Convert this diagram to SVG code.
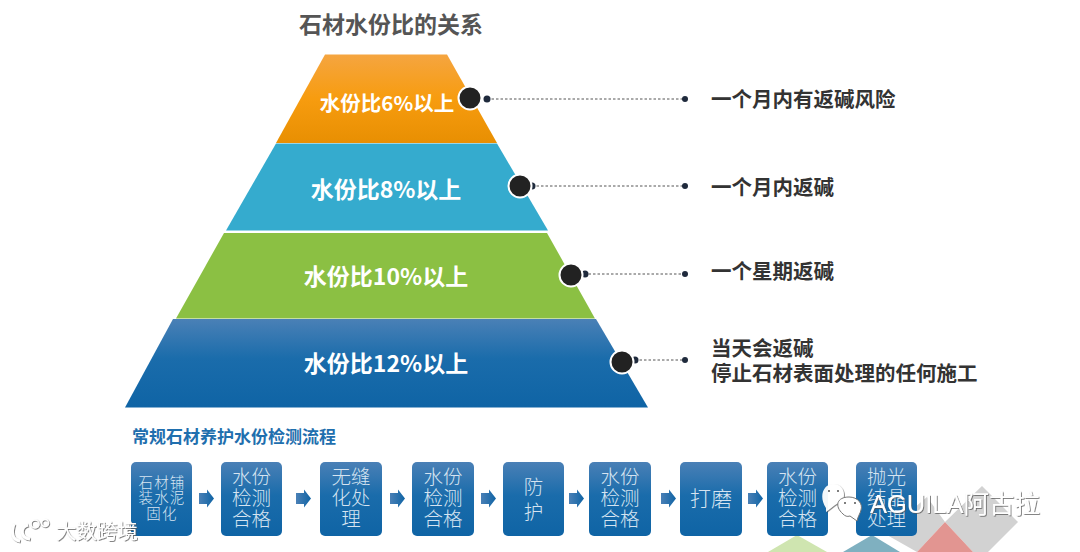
<svg xmlns="http://www.w3.org/2000/svg" width="1080" height="552" viewBox="0 0 1080 552">
<defs>
<linearGradient id="gO" x1="0" y1="0" x2="0" y2="1"><stop offset="0" stop-color="#f5a540"/><stop offset="0.5" stop-color="#f79c0f"/><stop offset="1" stop-color="#e88f02"/></linearGradient>
<linearGradient id="gB" x1="0" y1="0" x2="0" y2="1"><stop offset="0" stop-color="#4a80b6"/><stop offset="0.45" stop-color="#1a6cab"/><stop offset="1" stop-color="#0f64a5"/></linearGradient>
<linearGradient id="gA" x1="0" y1="0" x2="1" y2="0"><stop offset="0" stop-color="#4a80b6"/><stop offset="1" stop-color="#0f64a5"/></linearGradient>
<path id="arr" d="M0,-5.500H8V-9L15,0L8,9V5.500H0Z" fill="url(#gA)"/>
<circle id="dot" r="11.500" fill="#222" stroke="#fff" stroke-width="2"/>
<filter id="sh" x="-10%" y="-20%" width="120%" height="140%"><feDropShadow dx="0.800" dy="0.800" stdDeviation="0.500" flood-color="#555" flood-opacity="0.900"/></filter>
</defs>
<style>
text{font-family:"Noto Sans CJK SC","Noto Sans",sans-serif}
.t{font-weight:700;fill:#fff;text-anchor:middle}
.r{font-weight:700;font-size:20.500px;fill:#333}
.b{font-size:19.500px;fill:#d6e4f1;text-anchor:middle;font-weight:300}
.s{font-size:14.500px;letter-spacing:1.200px}
.line{stroke:#555;stroke-width:1;stroke-dasharray:2.500 2;fill:none}
.box{fill:url(#gB)}
.wm{fill:#fff;filter:url(#sh)}
</style>
<rect width="1080" height="552" fill="#fff"/>
<text x="391" y="33" font-size="23" font-weight="700" fill="#555" text-anchor="middle">石材水份比的关系</text>
<g id="bg-shapes">
<path d="M768,552L797,535L827,552Z" fill="#cfe5b0"/>
<path d="M843,552L872,535L900,552Z" fill="#7fb0c0"/>
<path d="M887,535L917,552L945,522L973,552H988L1018,522L982,486L945,522L927,497L900,520Z" fill="#d2d2d2"/>
<path d="M917,552L945,522L973,552Z" fill="#e29591"/>
</g>
<g id="tier1"><path d="M325,54.500H447L497,143H276Z" fill="url(#gO)"/><text class="t" x="387" y="111" font-size="20.500">水份比6%以上</text></g>
<g id="tier2"><path d="M276,143.500H497L548,230.500H226Z" fill="#35abce"/><text class="t" x="386" y="198" font-size="23">水份比8%以上</text></g>
<g id="tier3"><path d="M224,233H547L595,318.500H176Z" fill="#8bc043"/><text class="t" x="386" y="285" font-size="23">水份比10%以上</text></g>
<g id="tier4"><path d="M173,319H596L648,407.500H125Z" fill="url(#gB)"/><text class="t" x="386" y="372" font-size="23">水份比12%以上</text></g>
<g id="connectors">
<path class="line" d="M487,99H685M532,186H685M584,274H685M635,360H685"/>
<g fill="#1f2a3c"><circle cx="487" cy="99" r="3.500"/><circle cx="532" cy="186" r="3.500"/><circle cx="585" cy="274" r="3.500"/><circle cx="635" cy="360" r="3.500"/><circle cx="685" cy="99" r="3"/><circle cx="685" cy="186" r="3"/><circle cx="685" cy="274" r="3"/><circle cx="685" cy="360" r="3"/></g>
<use href="#arr" x="199" y="498.500"/><use href="#arr" x="296" y="498.500"/><use href="#arr" x="390" y="498.500"/><use href="#arr" x="481" y="498.500"/><use href="#arr" x="569" y="498.500"/><use href="#arr" x="661" y="498.500"/><use href="#arr" x="748" y="498.500"/>
</g>
<g id="markers"><use href="#dot" x="470" y="98"/><use href="#dot" x="520" y="186"/><use href="#dot" x="571" y="275"/><use href="#dot" x="622" y="362"/></g>
<g id="labels">
<text class="r" x="711" y="107">一个月内有返碱风险</text>
<text class="r" x="711" y="195">一个月内返碱</text>
<text class="r" x="711" y="279">一个星期返碱</text>
<text class="r" x="711" y="356">当天会返碱</text>
<text class="r" x="711" y="381">停止石材表面处理的任何施工</text>
</g>
<text x="132" y="443" font-size="17" font-weight="700" fill="#1f6fae">常规石材养护水份检测流程</text>
<g id="step1"><rect class="box" x="131" y="462" width="61" height="74" rx="5"/><text class="b s"><tspan x="162" y="487.500">石材铺</tspan><tspan x="162" y="503">装水泥</tspan><tspan x="162" y="518.500">固化</tspan></text></g>
<g id="step2"><rect class="box" x="221" y="462" width="61" height="74" rx="5"/><text class="b"><tspan x="251.500" y="484">水份</tspan><tspan x="251.500" y="505">检测</tspan><tspan x="251.500" y="526">合格</tspan></text></g>
<g id="step3"><rect class="box" x="320" y="462" width="62" height="74" rx="5"/><text class="b"><tspan x="351" y="484">无缝</tspan><tspan x="351" y="505">化处</tspan><tspan x="351" y="526">理</tspan></text></g>
<g id="step4"><rect class="box" x="412" y="462" width="62" height="74" rx="5"/><text class="b"><tspan x="443" y="484">水份</tspan><tspan x="443" y="505">检测</tspan><tspan x="443" y="526">合格</tspan></text></g>
<g id="step5"><rect class="box" x="503" y="462" width="61" height="74" rx="5"/><text class="b"><tspan x="533.500" y="494">防</tspan><tspan x="533.500" y="519">护</tspan></text></g>
<g id="step6"><rect class="box" x="589" y="462" width="62" height="74" rx="5"/><text class="b"><tspan x="620" y="484">水份</tspan><tspan x="620" y="505">检测</tspan><tspan x="620" y="526">合格</tspan></text></g>
<g id="step7"><rect class="box" x="680" y="462" width="62" height="74" rx="5"/><text class="b" x="711" y="506" style="font-size:21px">打磨</text></g>
<g id="step8"><rect class="box" x="767" y="462" width="61" height="74" rx="5"/><text class="b"><tspan x="797.500" y="484">水份</tspan><tspan x="797.500" y="505">检测</tspan><tspan x="797.500" y="526">合格</tspan></text></g>
<g id="step9"><rect class="box" x="856" y="462" width="61" height="74" rx="5"/><text class="b"><tspan x="886.500" y="484">抛光</tspan><tspan x="886.500" y="505">结晶</tspan><tspan x="886.500" y="526">处理</tspan></text></g>
<g id="watermarks">
<path d="M826,508C818,496 824,484 833,484C842,484 846,492 843,500L835,505L826,512Z" fill="#fff" opacity="0.950" filter="url(#sh)"/>
<path d="M843,514C834,506 837,497 849,497C858,497 863,504 861,510C860,514 858,516 857,521L850,516C847,517 845,516 843,514Z" fill="#fff" stroke="#777" stroke-width="1"/>
<g fill="#555"><circle cx="829" cy="491" r="1"/><circle cx="838" cy="491" r="1"/><circle cx="845" cy="503" r="1"/><circle cx="855" cy="503" r="1"/></g>
<text class="wm" x="870" y="513" font-size="25.500" style="font-family:'Liberation Sans','Noto Sans CJK SC',sans-serif">AGUILA阿古拉</text>
<text class="wm" x="56" y="539" font-size="20.500">大数跨境</text>
<g fill="none" stroke="#fff" filter="url(#sh)"><path d="M14,524C11,532 12,540 20,541M28,525C20,527 20,538 30,539" stroke-width="3"/><circle cx="35" cy="524" r="4" stroke-width="1.500"/><circle cx="45" cy="523" r="3.500" stroke-width="1.500"/></g>
</g>
</svg>
